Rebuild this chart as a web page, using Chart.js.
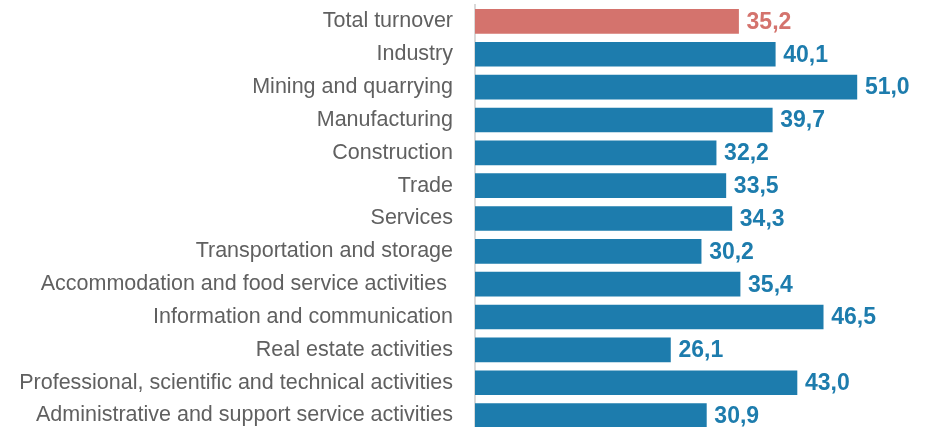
<!DOCTYPE html>
<html><head><meta charset="utf-8">
<script src="https://cdn.jsdelivr.net/npm/chart.js@4/dist/chart.umd.min.js"></script>
<style>html,body{margin:0;padding:0;overflow:hidden;background:#fff}#wrap{position:relative;width:937px;height:432px}</style>
</head><body><div id="wrap"><canvas id="c"></canvas></div>
<script>
const categories = ["Total turnover","Industry","Mining and quarrying","Manufacturing","Construction","Trade","Services","Transportation and storage","Accommodation and food service activities ","Information and communication","Real estate activities","Professional, scientific and technical activities","Administrative and support service activities"];
const values = [35.2,40.1,51.0,39.7,32.2,33.5,34.3,30.2,35.4,46.5,26.1,43.0,30.9];
const BLUE = "#1d7cad", RED = "#d4736d";
const colors = categories.map((c,i)=> i===0 ? RED : BLUE);

const valueLabels = {
  id:'valueLabels',
  afterDatasetsDraw(chart){
    const ctx = chart.ctx;
    const meta = chart.getDatasetMeta(0);
    ctx.save();
    ctx.font = 'bold 23px "Liberation Sans", Arial, sans-serif';
    ctx.textBaseline = 'middle';
    ctx.textAlign = 'left';
    meta.data.forEach((bar,i)=>{
      ctx.fillStyle = colors[i];
      ctx.fillText(values[i].toFixed(1).replace('.',','), bar.x + 8, bar.y + 1);
    });
    ctx.restore();
  }
};

new Chart(document.getElementById('c'), {
  type:'bar',
  data:{labels:categories, datasets:[{data:values, backgroundColor:colors, barThickness:24, borderWidth:0}]},
  options:{
    indexAxis:'y', responsive:true, maintainAspectRatio:false, animation:false,
    layout:{padding:{top:5,right:0,bottom:0,left:0}},
    plugins:{legend:{display:false}, tooltip:{enabled:false}},
    scales:{
      x:{min:0,max:61.7,display:false},
      y:{
        afterFit(s){ s.width = 475; s.paddingTop = 0; s.paddingBottom = 0; },
        grid:{display:false, drawTicks:false},
        border:{display:true,color:'#d9d9d9',width:2},
        ticks:{padding:22,color:'#606060',font:{family:'"Liberation Sans", Arial, sans-serif',size:21.5,weight:'normal'}}
      }
    }
  },
  plugins:[valueLabels]
});
</script></body></html>
